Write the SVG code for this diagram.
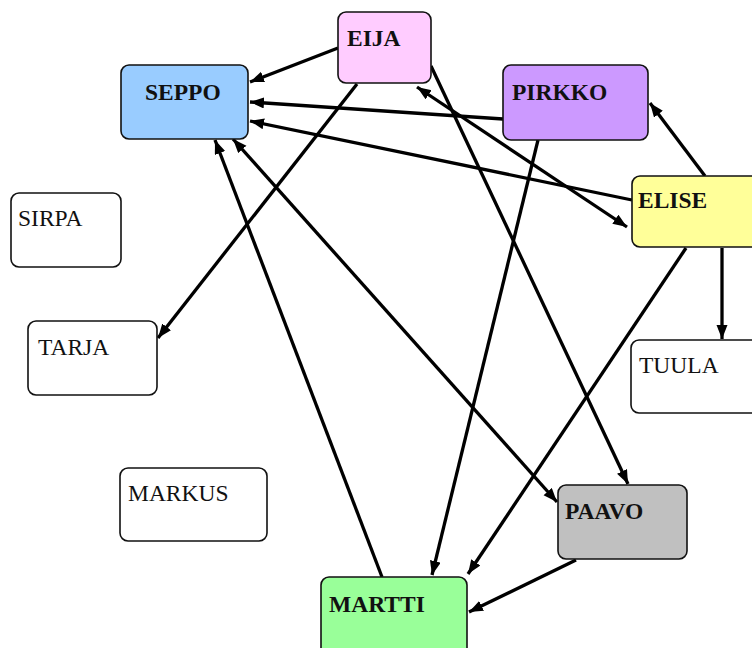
<svg xmlns="http://www.w3.org/2000/svg" width="752" height="648" viewBox="0 0 752 648">
<style>
.box{stroke:#111;stroke-width:1.6}
.lb{font-family:"Liberation Serif","Times New Roman",serif;font-size:23.5px;fill:#111}
.b{font-weight:bold}
.e{stroke:#000;stroke-width:3.3;fill:none;marker-end:url(#ah)}
.bi{marker-start:url(#ah)}
</style>
<defs>
<marker id="ah" markerUnits="userSpaceOnUse" markerWidth="15" markerHeight="12" refX="14" refY="5.5" orient="auto-start-reverse"><path d="M0,0 L14,5.5 L0,11 z" fill="#000"/></marker>
</defs>
<rect width="752" height="648" fill="#fff"/>
<g id="connectors">
<line class="e" x1="338" y1="48" x2="250" y2="82"/>
<line class="e" x1="503" y1="119" x2="250" y2="102"/>
<line class="e" x1="632" y1="200" x2="250" y2="121"/>
<line class="e bi" x1="417" y1="87" x2="627" y2="227"/>
<line class="e" x1="357" y1="84" x2="158" y2="338"/>
<line class="e" x1="431" y1="66" x2="628" y2="484"/>
<line class="e" x1="538" y1="140" x2="432" y2="575"/>
<line class="e" x1="705" y1="176" x2="650" y2="103"/>
<line class="e" x1="722" y1="248" x2="722" y2="339"/>
<line class="e" x1="686" y1="248" x2="468" y2="574"/>
<line class="e bi" x1="233" y1="139" x2="557" y2="502"/>
<line class="e" x1="382" y1="577" x2="215" y2="140"/>
<line class="e" x1="576" y1="560" x2="469" y2="612"/>
</g>
<g id="SEPPO"><rect class="box" x="121" y="65" width="127" height="74" rx="8" fill="#99ccff"/><text class="lb b" x="145" y="100">SEPPO</text></g>
<g id="EIJA"><rect class="box" x="338" y="12" width="93" height="71" rx="8" fill="#ffccff"/><text class="lb b" x="347" y="46">EIJA</text></g>
<g id="PIRKKO"><rect class="box" x="503" y="65" width="145" height="75" rx="8" fill="#cc99ff"/><text class="lb b" x="512" y="100">PIRKKO</text></g>
<g id="ELISE"><rect class="box" x="632" y="176" width="130" height="71" rx="8" fill="#ffff99"/><text class="lb b" x="638" y="208">ELISE</text></g>
<g id="SIRPA"><rect class="box" x="11" y="193" width="110" height="74" rx="8" fill="#fff"/><text class="lb" x="18" y="226">SIRPA</text></g>
<g id="TARJA"><rect class="box" x="28" y="321" width="129" height="74" rx="8" fill="#fff"/><text class="lb" x="38" y="355">TARJA</text></g>
<g id="TUULA"><rect class="box" x="631" y="340" width="131" height="73" rx="8" fill="#fff"/><text class="lb" x="639" y="373">TUULA</text></g>
<g id="MARKUS"><rect class="box" x="120" y="468" width="147" height="73" rx="8" fill="#fff"/><text class="lb" x="128" y="501">MARKUS</text></g>
<g id="PAAVO"><rect class="box" x="558" y="485" width="129" height="74" rx="8" fill="#c0c0c0"/><text class="lb b" x="565" y="519">PAAVO</text></g>
<g id="MARTTI"><rect class="box" x="321" y="577" width="146" height="80" rx="8" fill="#99ff99"/><text class="lb b" x="329" y="612">MARTTI</text></g>
</svg>
